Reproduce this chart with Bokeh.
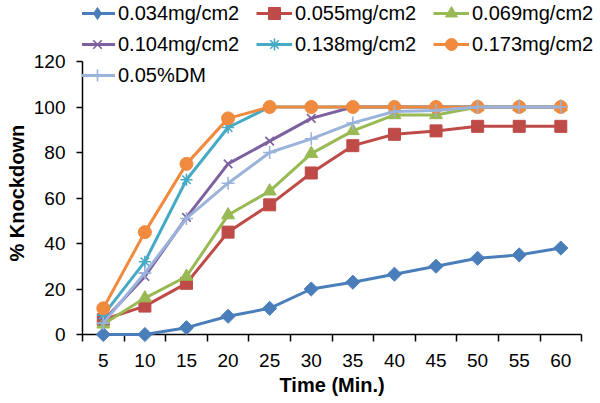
import math
from bokeh.plotting import figure
from bokeh.models import Range1d, FixedTicker, Legend, LegendItem, Title
from bokeh.embed import file_html
from bokeh.resources import INLINE

times = [5, 10, 15, 20, 25, 30, 35, 40, 45, 50, 55, 60]
s034 = [0, 0, 3, 8, 11.5, 20, 23, 26.5, 30, 33.5, 35, 38]
s055 = [6.5, 12.5, 22.5, 45, 57, 71, 83, 88, 89.5, 91.5, 91.5, 91.5]
s069 = [4.5, 16, 25.5, 52.5, 63, 79.5, 89.5, 96.5, 96.5, 100, 100, 100]
s104 = [6, 25.5, 51.5, 75, 85, 95, 100, 100, 100, 100, 100, 100]
s138 = [8.5, 32, 68, 91, 100, 100, 100, 100, 100, 100, 100, 100]
s173 = [11.5, 45, 75, 95, 100, 100, 100, 100, 100, 100, 100, 100]
sDM = [5, 27, 51, 66.5, 80, 86, 93, 98, 98.5, 100, 100, 100]
names = ["0.034mg/cm2", "0.055mg/cm2", "0.069mg/cm2", "0.104mg/cm2",
         "0.138mg/cm2", "0.173mg/cm2", "0.05%DM"]
y_ticks = [0, 20, 40, 60, 80, 100, 120]
x_title = "Time (Min.)"
y_title = "% Knockdown"

series = [s034, s055, s069, s104, s138, s173, sDM]
colors = ["#4A7EBB", "#BE4B48", "#98B954", "#7D60A0", "#46AAC5", "#F08A3E", "#9BB3DA"]
markers = ["square", "square", "triangle", "x", "asterisk", "circle", "cross"]
legend_markers = ["diamond", "square", "triangle", "x", "asterisk", "circle", "cross"]
angles = [math.pi / 4, 0, 0, 0, 0, 0, 0]
sizes = [10, 12, 13, 12, 12, 13, 13]
filled = [True, True, True, False, False, True, False]

# frame: x 79..600 (axis ends at 581), y 0..334 ; value 120 sits at y=61
y_top = 120 * 334 / 273.0
x_end = 62.5 + 19 * 60 / 502.0

p = figure(width=600, height=403, output_backend="svg", toolbar_location=None,
           x_range=Range1d(2.5, x_end), y_range=Range1d(0, y_top),
           min_border_left=79, min_border_right=0, min_border_top=0,
           min_border_bottom=69)
p.outline_line_color = None
p.grid.visible = False
p.background_fill_color = "white"
p.border_fill_color = "white"

items = []
for ys, c, m, lm, a, s, f, n in zip(series, colors, markers, legend_markers,
                                     angles, sizes, filled, names):
    ln = p.line(times, ys, line_color=c, line_width=3, level="overlay")
    if f:
        sc = p.scatter(times, ys, marker=m, size=s, angle=a, fill_color=c,
                       line_color=c, level="overlay")
    else:
        sc = p.scatter(times, ys, marker=m, size=s, line_color=c, line_width=1.6,
                       fill_color=None, level="overlay")
    if lm != m:
        # legend swatch: a single point far outside the visible ranges
        sw = p.scatter([-100], [-100], marker=lm, fill_color=c, line_color=c)
        items.append(LegendItem(label=n, renderers=[ln, sw]))
    else:
        items.append(LegendItem(label=n, renderers=[ln, sc]))

legend = Legend(items=items, orientation="horizontal", ncols=3, location=(-3, 244),
                padding=0, margin=0, spacing=1, glyph_width=36, glyph_height=30,
                label_height=30, label_width=137, label_standoff=3,
                label_text_font="Liberation Sans", label_text_font_size="20px",
                label_text_color="#000000", border_line_alpha=0,
                background_fill_alpha=0)
p.add_layout(legend, "center")

ax = p.xaxis[0]
ax.ticker = FixedTicker(ticks=times, minor_ticks=[2.5 + 5 * i for i in range(13)])
ax.bounds = (2.5, 62.5)
ax.major_tick_out = 0
ax.major_tick_in = 0
ax.minor_tick_out = 7
ax.minor_tick_in = 0
ax.minor_tick_line_color = "black"
ax.minor_tick_line_width = 1.5

ay = p.yaxis[0]
ay.ticker = FixedTicker(ticks=y_ticks)
ay.bounds = (0, 120)
ay.major_tick_out = 6
ay.major_tick_in = 0
ay.minor_tick_out = 0

for a_ in (ax, ay):
    a_.axis_line_color = "black"
    a_.axis_line_width = 1.5
    a_.major_tick_line_color = "black"
    a_.major_tick_line_width = 1.5
    a_.major_label_text_font = "Liberation Sans"
    a_.major_label_text_font_size = "19px"
    a_.major_label_text_color = "black"

ax.major_label_standoff = 12
ay.major_label_standoff = 11

# axis titles as panel titles so they can be centred on the axis extent
xt = Title(text=x_title, align="left", offset=197, vertical_align="top", standoff=8,
           text_font="Liberation Sans", text_font_size="20px",
           text_font_style="bold", text_color="black")
p.add_layout(xt, "below")
yt = Title(text=y_title, align="left", offset=73, vertical_align="bottom", standoff=6,
           text_font="Liberation Sans", text_font_size="20px",
           text_font_style="bold", text_color="black")
p.add_layout(yt, "left")

open("out.html", "w").write(file_html(p, INLINE))
